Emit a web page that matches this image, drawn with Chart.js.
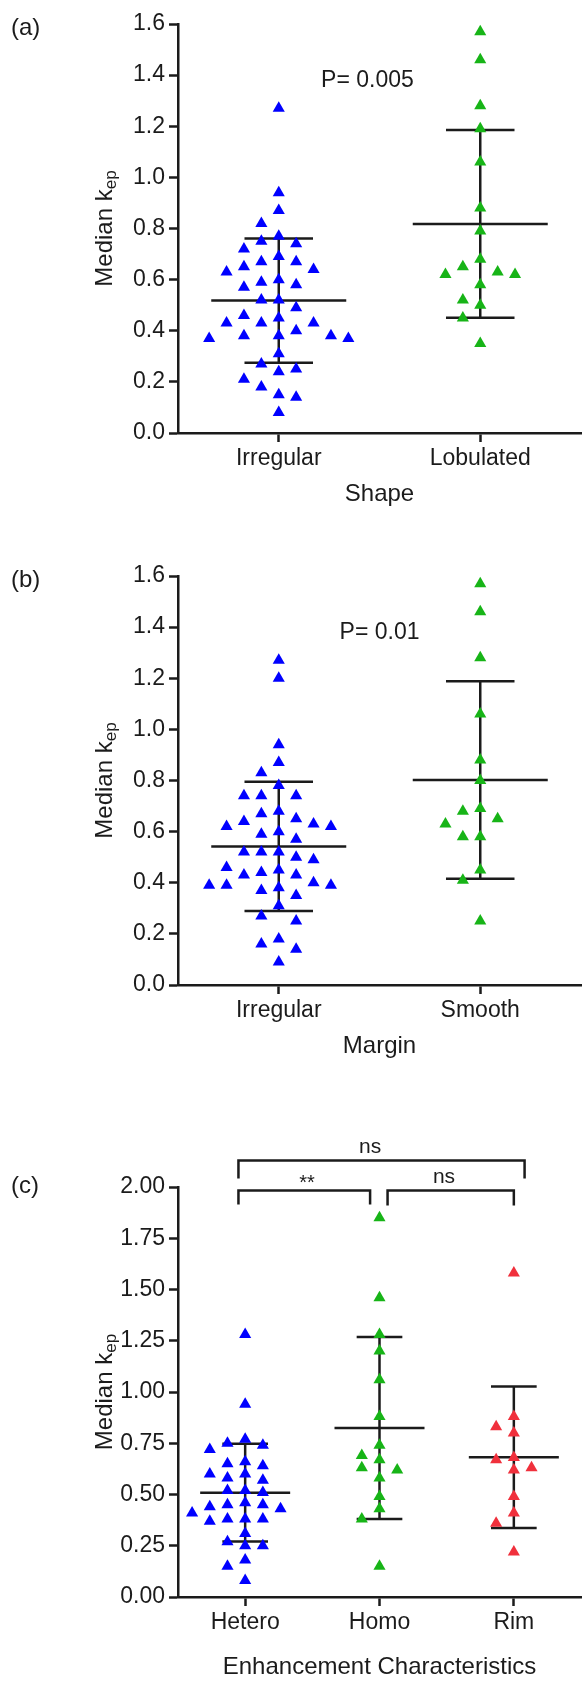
<!DOCTYPE html>
<html lang="en">
<head>
<meta charset="UTF-8">
<title>Median kep scatter plots</title>
<style>
  html, body { margin: 0; padding: 0; background: #fff; }
  body { width: 588px; height: 1685px; position: relative; overflow: hidden; }
  canvas { position: absolute; left: 0; }
</style>
</head>
<body>
<canvas id="chartA" width="588" height="552" style="top:0px"></canvas>
<canvas id="chartB" width="588" height="552" style="top:552px"></canvas>
<canvas id="chartC" width="588" height="581" style="top:1104px"></canvas>

<script src="https://cdn.jsdelivr.net/npm/chart.js"></script>
<script>
// ---- data ----
const shapeCategories = ['Irregular', 'Lobulated'];
const shapeIrregular = [1.27, 0.94, 0.82, 0.75, 0.67, 0.60, 0.52, 0.45, 0.37, 0.25, 0.18, 0.08,
  0.87, 0.67, 0.64, 0.57, 0.49, 0.43, 0.37, 0.31, 0.21, 0.15, 0.72, 0.59, 0.38, 0.40,
  0.77, 0.69, 0.63, 0.58, 0.46, 0.38, 0.27, 0.24, 0.14, 0.43, 0.74, 0.65, 0.52, 0.38, 0.43];
const shapeLobulated = [1.57, 1.46, 1.28, 1.19, 1.06, 0.88, 0.79, 0.65, 0.58, 0.45, 0.35,
  0.68, 0.62, 0.50, 0.62, 0.52, 0.63];
const shapeMean = [0.518, 0.818];
const shapeSD = [0.243, 0.367];

const marginCategories = ['Irregular', 'Smooth'];
const marginIrregular = [1.27, 1.20, 0.94, 0.83, 0.74, 0.67, 0.59, 0.52, 0.43, 0.35, 0.27, 0.18, 0.09,
  0.87, 0.68, 0.62, 0.52, 0.44, 0.37, 0.25, 0.16, 0.74, 0.63, 0.57, 0.46, 0.39,
  0.65, 0.50, 0.39, 0.78, 0.74, 0.60, 0.52, 0.43, 0.38, 0.31, 0.14,
  0.62, 0.45, 0.39, 0.64, 0.49, 0.40];
const marginSmooth = [1.57, 1.46, 1.28, 1.06, 0.88, 0.80, 0.65, 0.58, 0.41, 0.25,
  0.68, 0.63, 0.45, 0.69, 0.58];
const marginMean = [0.542, 0.802];
const marginSD = [0.253, 0.386];

const enhCategories = ['Hetero', 'Homo', 'Rim'];
const enhHetero = [1.28, 0.94, 0.74, 0.64, 0.51, 0.37, 0.27, 0.18, 0.08,
  0.77, 0.65, 0.52, 0.43, 0.38, 0.25, 0.60, 0.46, 0.72, 0.58, 0.45, 0.38,
  0.75, 0.66, 0.52, 0.38, 0.31, 0.25, 0.15, 0.60, 0.44, 0.57, 0.41, 0.45];
const enhHomo = [1.85, 1.46, 1.20, 1.06, 0.88, 0.67, 0.58, 0.49, 0.38, 0.15,
  1.28, 0.74, 0.62, 0.43, 0.69, 0.63];
const enhRim = [1.58, 0.80, 0.62, 0.49, 0.36, 0.22, 0.88, 0.63, 0.41, 0.68, 0.83, 0.67];
const enhMean = [0.509, 0.824, 0.682];
const enhSD = [0.238, 0.444, 0.345];

const ticksAB = [0, 0.2, 0.4, 0.6, 0.8, 1.0, 1.2, 1.4, 1.6];
const ticksC = [0, 0.25, 0.5, 0.75, 1.0, 1.25, 1.5, 1.75, 2.0];

// ---- look ----
const FONT = '"Liberation Sans", Arial, Helvetica, sans-serif';
const INK = '#1b1b1b';
const BLUE = '#0000ff', GREEN = '#17b417', RED = '#f0303c';
const AXIS_X = 178;       // y axis position
const MEAN_HALF = 0.335, CAP_HALF = 0.17;

Chart.defaults.font.family = FONT;
Chart.defaults.color = INK;

// simple beeswarm: each point goes to the nearest free slot, left first
function swarm(values, cat, pxPerUnit, pxPerCat, sw) {
  const idx = values.map((v, i) => i).sort((a, b) => values[b] - values[a]);
  const placed = [];
  const pts = [];
  idx.forEach(i => {
    const v = values[i];
    for (let n = 0; n < 40; n++) {
      const k = n === 0 ? 0 : (n % 2 ? -(n + 1) / 2 : n / 2);
      const hit = placed.some(p =>
        Math.abs(p.k - k) * sw.step < sw.gapX && Math.abs(p.v - v) * pxPerUnit < sw.gapY);
      if (!hit) {
        placed.push({ k, v });
        pts.push({ x: cat + k * sw.step / pxPerCat, y: v });
        break;
      }
    }
  });
  return pts;
}

function panel(id, opt) {
  const canvas = document.getElementById(id);
  const H = canvas.height;
  const n = opt.categories.length;
  const pxPerCat = (canvas.width - AXIS_X) / n;
  const yMax = opt.yTicks[opt.yTicks.length - 1];
  const pxPerUnit = (opt.bottom - opt.top) / yMax;

  const datasets = [];
  opt.groups.forEach((vals, c) => {
    datasets.push({
      type: 'scatter',
      data: swarm(vals, c, pxPerUnit, pxPerCat, opt.swarm),
      pointStyle: 'triangle',
      pointRadius: 7,
      backgroundColor: opt.colors[c],
      borderColor: opt.colors[c],
      borderWidth: 0,
      clip: false,
      order: 0
    });
  });
  opt.means.forEach((m, c) => {
    const lo = m - opt.sds[c], hi = m + opt.sds[c];
    const segs = [
      [[c - MEAN_HALF, m], [c + MEAN_HALF, m]],
      [[c - CAP_HALF, hi], [c + CAP_HALF, hi]],
      [[c - CAP_HALF, lo], [c + CAP_HALF, lo]],
      [[c, lo], [c, hi]]
    ];
    segs.forEach(s => datasets.push({
      type: 'line',
      data: s.map(([x, y]) => ({ x, y })),
      borderColor: INK,
      borderWidth: 2.5,
      pointRadius: 0,
      order: 1
    }));
  });

  const decor = {
    id: 'decor',
    afterDraw(chart) {
      const { ctx, chartArea: a, scales: { x, y } } = chart;
      ctx.save();
      ctx.fillStyle = INK;
      ctx.strokeStyle = INK;

      ctx.font = `24px ${FONT}`;
      ctx.textAlign = 'left';
      ctx.textBaseline = 'middle';
      ctx.fillText(opt.letter, 11, opt.letterY);

      ctx.textAlign = 'center';
      ctx.fillText(opt.xTitle, (a.left + a.right) / 2, a.bottom + opt.xTitleGap);

      if (opt.pText) {
        ctx.font = `23px ${FONT}`;
        ctx.fillText(opt.pText.text, x.getPixelForValue(opt.pText.x), y.getPixelForValue(opt.pText.y));
      }

      (opt.brackets || []).forEach(b => {
        const x1 = x.getPixelForValue(b.from), x2 = x.getPixelForValue(b.to);
        const yy = Math.round(y.getPixelForValue(b.y)) + 0.5;
        ctx.lineWidth = 2.5;
        ctx.beginPath();
        ctx.moveTo(x1, yy + b.leg);
        ctx.lineTo(x1, yy);
        ctx.lineTo(x2, yy);
        ctx.lineTo(x2, yy + b.leg);
        ctx.stroke();
        ctx.font = `${b.size}px ${FONT}`;
        ctx.textBaseline = 'alphabetic';
        ctx.fillText(b.label, x.getPixelForValue(b.labelX), yy - b.lift);
      });

      // rotated y title with subscript
      ctx.translate(104, (a.top + a.bottom) / 2);
      ctx.rotate(-Math.PI / 2);
      ctx.textAlign = 'left';
      ctx.textBaseline = 'alphabetic';
      ctx.font = `24px ${FONT}`;
      const main = 'Median k', sub = 'ep';
      const wMain = ctx.measureText(main).width;
      ctx.font = `17px ${FONT}`;
      const wSub = ctx.measureText(sub).width;
      const start = -(wMain + wSub) / 2;
      ctx.font = `24px ${FONT}`;
      ctx.fillText(main, start, 8);
      ctx.font = `17px ${FONT}`;
      ctx.fillText(sub, start + wMain, 12);
      ctx.restore();
    }
  };

  const axisLine = { display: true, color: INK, width: 2.5 };
  const tickMarks = { drawOnChartArea: false, drawTicks: true, tickLength: 9, tickWidth: 2.5, tickColor: INK };

  new Chart(canvas, {
    data: { datasets },
    options: {
      responsive: false,
      animation: false,
      events: [],
      layout: { padding: { top: opt.top, left: 0, right: 0, bottom: 0 } },
      plugins: { legend: { display: false }, tooltip: { enabled: false } },
      scales: {
        x: {
          type: 'linear',
          min: -0.5,
          max: n - 0.5,
          afterBuildTicks: s => { s.ticks = opt.categories.map((c, i) => ({ value: i })); },
          afterFit: s => { s.height = H - opt.bottom; },
          ticks: {
            callback: v => opt.categories[v],
            font: { size: 23 },
            color: INK,
            padding: 3,
            maxRotation: 0,
            autoSkip: false
          },
          grid: tickMarks,
          border: axisLine
        },
        y: {
          type: 'linear',
          min: 0,
          max: yMax,
          afterBuildTicks: s => { s.ticks = opt.yTicks.map(v => ({ value: v })); },
          afterFit: s => { s.width = AXIS_X; },
          ticks: {
            callback: v => v.toFixed(opt.digits),
            font: { size: 23 },
            color: INK,
            padding: 4
          },
          grid: tickMarks,
          border: axisLine
        }
      }
    },
    plugins: [decor]
  });
}

panel('chartA', {
  categories: shapeCategories,
  groups: [shapeIrregular, shapeLobulated],
  colors: [BLUE, GREEN],
  means: shapeMean, sds: shapeSD,
  yTicks: ticksAB, digits: 1,
  top: 24, bottom: 433,
  swarm: { step: 17.7, gapX: 14, gapY: 16 },
  letter: '(a)', letterY: 28,
  xTitle: 'Shape', xTitleGap: 61,
  pText: { text: 'P= 0.005', x: 0.44, y: 1.38 }
});

panel('chartB', {
  categories: marginCategories,
  groups: [marginIrregular, marginSmooth],
  colors: [BLUE, GREEN],
  means: marginMean, sds: marginSD,
  yTicks: ticksAB, digits: 1,
  top: 24, bottom: 433,
  swarm: { step: 17.7, gapX: 14, gapY: 16 },
  letter: '(b)', letterY: 28,
  xTitle: 'Margin', xTitleGap: 61,
  pText: { text: 'P= 0.01', x: 0.5, y: 1.38 }
});

panel('chartC', {
  categories: enhCategories,
  groups: [enhHetero, enhHomo, enhRim],
  colors: [BLUE, GREEN, RED],
  means: enhMean, sds: enhSD,
  yTicks: ticksC, digits: 2,
  top: 83, bottom: 493,
  swarm: { step: 9, gapX: 14, gapY: 12 },
  letter: '(c)', letterY: 82,
  xTitle: 'Enhancement Characteristics', xTitleGap: 70,
  brackets: [
    { from: -0.05, to: 2.08, y: 2.13, leg: 18, label: 'ns', labelX: 0.93, lift: 8, size: 21 },
    { from: -0.05, to: 0.93, y: 1.985, leg: 14, label: '**', labelX: 0.46, lift: 2, size: 20 },
    { from: 1.06, to: 2.0, y: 1.985, leg: 15, label: 'ns', labelX: 1.48, lift: 8, size: 21 }
  ]
});
</script>
</body>
</html>
